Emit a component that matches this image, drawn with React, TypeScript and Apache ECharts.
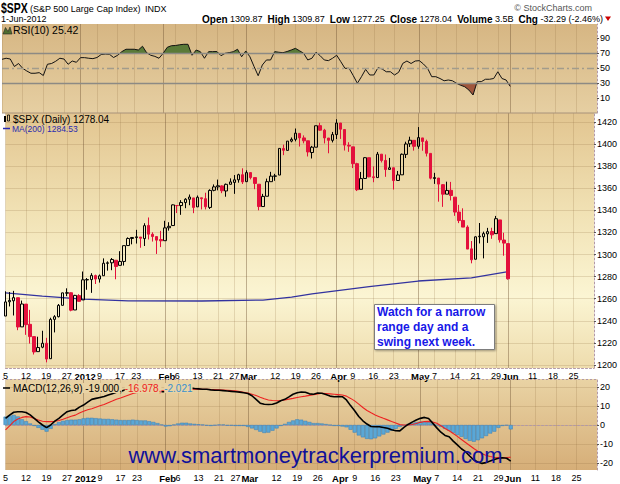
import React, { useEffect, useRef } from "react";
import * as echarts from "echarts";

// ---------- data ----------
// trading days 5-Dec-2011 .. 1-Jun-2012 (124 sessions)
const opens = [
  1244.3, 1257.2, 1258.1, 1260.9, 1234.5, 1255.1, 1236.8, 1225.7, 1212.1, 1216.1, 1219.7, 1205.7, 1241.3, 1243.7, 1254.0, 1265.0, 1265.4, 1249.8, 1262.8,
  1258.9, 1277.0, 1277.3, 1280.9, 1277.8, 1280.8, 1292.0, 1292.5, 1294.8, 1290.2, 1293.7, 1308.1, 1314.5, 1315.3, 1315.8, 1314.4, 1326.3, 1318.3, 1316.2, 1313.5,
  1312.5, 1324.2, 1326.2, 1344.3, 1344.3, 1347.0, 1350.0, 1351.2, 1343.1, 1351.3, 1350.5, 1342.6, 1358.1, 1361.2, 1362.1, 1357.5, 1363.5, 1365.2, 1367.6, 1372.2,
  1365.9, 1374.1, 1369.6, 1363.6, 1343.4, 1352.7, 1365.9, 1370.8, 1371.9, 1395.9, 1394.2, 1402.6, 1404.2, 1409.6, 1405.5, 1402.9, 1392.3, 1397.1, 1416.6, 1412.5, 1405.4, 1403.3,
  1408.5, 1419.0, 1413.1, 1398.8, 1397.4, 1382.2, 1359.0, 1368.8, 1387.6, 1370.3, 1369.6, 1390.8, 1385.1, 1377.0, 1378.5, 1367.0, 1372.1, 1390.6, 1400.2, 1403.3,
  1397.9, 1405.5, 1402.3, 1391.5, 1368.8, 1369.2, 1363.2, 1354.6, 1358.1, 1351.9, 1338.4, 1330.8, 1324.8, 1305.1, 1295.7, 1316.1, 1316.0, 1318.7, 1320.8, 1318.9, 1331.3, 1313.1,
  1309.87,
];
const highs = [
  1266.7, 1266.0, 1267.1, 1260.9, 1258.3, 1255.1, 1249.9, 1225.7, 1225.6, 1231.0, 1224.6, 1242.8, 1245.1, 1255.2, 1265.4, 1269.4, 1265.8, 1263.5, 1264.1,
  1284.6, 1278.7, 1283.1, 1281.8, 1281.9, 1296.5, 1293.8, 1296.8, 1294.8, 1303.0, 1308.1, 1315.5, 1315.4, 1322.3, 1315.8, 1328.3, 1333.5, 1320.1, 1316.2, 1321.4,
  1330.5, 1329.2, 1345.3, 1344.4, 1349.2, 1351.0, 1354.3, 1351.2, 1353.4, 1351.3, 1355.9, 1359.0, 1363.4, 1367.8, 1362.7, 1364.2, 1368.9, 1371.9, 1373.1, 1378.0,
  1376.2, 1374.5, 1369.6, 1363.6, 1354.9, 1368.7, 1374.8, 1373.0, 1396.0, 1399.4, 1402.6, 1405.9, 1414.0, 1409.6, 1407.8, 1402.9, 1398.3, 1416.6, 1419.2, 1413.7, 1405.4, 1410.9,
  1422.4, 1419.0, 1413.1, 1401.6, 1397.4, 1383.0, 1374.7, 1388.1, 1387.6, 1379.7, 1392.8, 1390.8, 1390.5, 1387.4, 1378.5, 1375.6, 1391.4, 1402.1, 1406.6, 1403.3,
  1415.3, 1405.5, 1403.9, 1391.5, 1373.9, 1369.2, 1363.7, 1365.9, 1365.7, 1351.9, 1344.9, 1341.8, 1326.4, 1312.2, 1316.4, 1328.5, 1320.7, 1324.1, 1324.2, 1334.9, 1331.3, 1319.7,
  1309.87,
];
const lows = [
  1244.3, 1253.0, 1244.8, 1231.5, 1234.5, 1227.3, 1219.4, 1209.5, 1212.1, 1215.2, 1202.4, 1205.7, 1229.5, 1243.1, 1254.0, 1262.3, 1248.6, 1249.8, 1257.5,
  1258.9, 1268.1, 1265.3, 1273.3, 1274.6, 1280.8, 1285.4, 1285.8, 1277.6, 1290.2, 1290.0, 1308.1, 1309.2, 1309.9, 1306.1, 1307.7, 1313.6, 1311.7, 1300.5, 1306.7,
  1312.5, 1321.6, 1326.2, 1337.5, 1335.9, 1341.9, 1344.6, 1337.4, 1343.1, 1340.8, 1340.8, 1341.2, 1357.2, 1358.1, 1355.5, 1352.3, 1363.5, 1354.9, 1365.0, 1363.8,
  1365.9, 1368.0, 1359.1, 1340.0, 1343.4, 1352.7, 1365.9, 1366.7, 1371.9, 1389.9, 1394.2, 1401.5, 1402.4, 1397.7, 1400.6, 1388.7, 1386.9, 1397.1, 1411.9, 1400.5, 1391.6, 1401.4,
  1404.5, 1404.6, 1394.1, 1392.9, 1378.2, 1357.4, 1359.0, 1368.8, 1369.9, 1365.4, 1369.6, 1383.3, 1370.3, 1377.0, 1358.8, 1366.8, 1372.1, 1387.3, 1397.3, 1394.0,
  1395.7, 1393.9, 1388.7, 1368.0, 1363.9, 1347.8, 1343.1, 1354.6, 1348.9, 1335.0, 1328.4, 1324.8, 1304.9, 1292.0, 1295.7, 1310.0, 1296.5, 1310.5, 1314.2, 1318.9, 1310.8, 1298.9,
  1277.25,
];
const closes = [
  1257.1, 1258.5, 1261.0, 1234.4, 1255.2, 1236.5, 1225.7, 1211.8, 1215.8, 1219.7, 1205.4, 1241.3, 1243.7, 1254.0, 1265.3, 1265.4, 1249.6, 1263.0, 1257.6,
  1277.1, 1277.3, 1281.1, 1277.8, 1280.7, 1292.1, 1292.5, 1295.5, 1289.1, 1293.7, 1308.0, 1314.5, 1315.4, 1316.0, 1314.7, 1326.1, 1318.4, 1316.3, 1313.0, 1312.4,
  1324.1, 1325.5, 1344.9, 1344.3, 1347.1, 1350.0, 1352.0, 1342.6, 1351.8, 1350.5, 1343.2, 1358.0, 1361.2, 1362.2, 1357.7, 1363.5, 1365.7, 1367.6, 1372.2, 1365.7,
  1374.1, 1369.6, 1364.3, 1343.4, 1352.6, 1365.9, 1370.9, 1371.1, 1396.0, 1394.3, 1402.6, 1404.2, 1409.8, 1405.5, 1402.9, 1392.8, 1397.1, 1416.5, 1412.5, 1405.5, 1403.3, 1408.5,
  1419.0, 1413.4, 1399.0, 1398.1, 1382.2, 1358.6, 1368.7, 1387.6, 1370.3, 1369.6, 1390.8, 1385.1, 1376.9, 1378.5, 1366.9, 1372.0, 1390.7, 1400.0, 1403.4, 1397.9,
  1405.8, 1402.3, 1391.6, 1369.1, 1369.6, 1363.7, 1354.6, 1358.0, 1353.4, 1338.4, 1330.7, 1324.8, 1304.9, 1295.2, 1316.0, 1316.6, 1318.9, 1320.7, 1317.8, 1332.4, 1313.3, 1310.3,
  1278.04,
];
const rsi10 = [
  61.6, 63, 62, 52, 56, 49.6, 46, 43, 43, 43.8, 40, 55, 56, 59, 63, 62, 55, 59.3, 57.6, 63.8,
  63.8, 63, 62.5, 64, 68, 68.6, 68.3, 64, 67, 71.8, 75, 75, 75, 74, 79, 70.4, 67, 65.5, 63, 69.6,
  77.6, 79.7, 80, 81, 81.6, 81.6, 67, 74, 71.8, 63, 71.8, 71.8, 72, 66.4, 69.6, 70.5, 71.8, 75, 65, 72.7,
  65, 52, 39.7, 54, 60.7, 60.7, 71.8, 71, 70.4, 72, 74, 76.2, 73, 69.6, 60.7, 63, 71, 66.4, 60.7, 59.8,
  63, 67, 58.4, 49.6, 49.6, 40, 29.6, 38.4, 48.2, 40.7, 40.7, 50.4, 48.7, 45, 45, 40.7, 44.3, 56.2, 59.3, 56,
  59.3, 59.8, 55.3, 49.6, 38.4, 38.4, 36, 33, 34, 33, 29.6, 27, 25, 20.6, 14, 31.8, 31.8, 35, 35, 36,
  45, 36, 34, 25.42,
];
const macdLine = [
  3.5, 5.2, 6.7, 7, 7, 6.6, 5.3, 3.5, 1.7, 0, -1.4, 0, 2, 3.5, 5.3, 7, 7.6, 7.9, 9.4, 10.5,
  12, 13.5, 14, 14.5, 15, 15.8, 16.5, 17.2, 17.6, 18.4, 19.3, 19.8, 20, 20, 19.6, 19, 18.3, 17.8, 17.5, 17.5,
  17.8, 18.5, 19.2, 19.6, 19.8, 19.5, 19.2, 19, 18.8, 18.8, 18.5, 18.3, 18.3, 18.1, 17.9, 17.7, 17.5, 17.3, 17, 16.6,
  15.4, 13.5, 11.5, 10.9, 10.8, 10.9, 11.6, 12.8, 13.5, 14.8, 16.2, 17, 17.4, 17.2, 16.4, 16.2, 16.8, 16.7, 16, 15.2,
  14.9, 15, 14.9, 13.2, 10.2, 7.5, 4.5, 2.2, 0.5, -0.8, -0.9, -0.9, -1.3, -1.7, -2.5, -3, -3.1, -1.2, 0.3, 1.5,
  2.6, 3.5, 4, 3.4, 1, -1.5, -3.8, -5.5, -6.2, -8.5, -10.5, -12.5, -14, -16.3, -18.4, -19.5, -20.2, -19.8, -18.9, -18.1,
  -17.5, -17.2, -17.5, -19.0,
];
const signalLine = [
  -2.6, -0.5, 1.8, 3.2, 4, 4.4, 4.2, 3.4, 2.6, 2, 1.8, 1.8, 2, 2.4, 3, 3.8, 4.6, 5.2, 6.3, 7.2,
  8, 8.6, 9.3, 10.1, 10.8, 11.7, 12.6, 13.6, 14.2, 15, 15.8, 16.6, 17.1, 17.5, 17.8, 18, 18.1, 18.1, 18, 17.9,
  17.9, 18, 18.2, 18.4, 18.6, 18.7, 18.8, 18.8, 18.8, 18.8, 18.7, 18.6, 18.5, 18.4, 18.3, 18.1, 18, 17.6, 17.2, 16.8,
  16.2, 15.5, 14.6, 13.8, 13.2, 12.9, 12.8, 12.9, 13.2, 13.6, 14, 14.5, 14.9, 15.2, 15.6, 15.9, 16.4, 16.7, 16.6, 16.4,
  16.2, 16, 15.8, 15.2, 14, 12.7, 11, 9.2, 7.6, 6.4, 5.3, 4.4, 3.5, 2.7, 1.8, 1, 0.2, 0, 0, 0.3,
  0.8, 1.4, 1.8, 1.9, 1.6, 0.9, -0.4, -1.8, -3, -4.5, -6, -7.6, -9.2, -10.8, -12.4, -13.8, -15, -16, -16.6, -17,
  -17.2, -17.2, -17.1, -16.98,
];
const histogram = [
  4.4, 5, 5.3, 4.5, 3, 2, 0.8, -0.5, -1.5, -2.5, -3.5, -2, 0.5, 1.5, 2.2, 2.6, 2.8, 2.8, 3, 3.5,
  3.8, 3.8, 3.6, 3.4, 3.2, 3.2, 3, 2.8, 2.6, 2.6, 2.6, 2.8, 2.6, 2.4, 2.4, 2, 1.6, 1, 0.2, -0.8,
  -0.6, 0.2, 0.8, 1.2, 1.2, 0.8, 0.6, 0.4, 0.2, -0.3, -0.5, -0.2, 0.2, 0.2, -0.3, -0.3, -0.5, -0.5, -0.5, -1,
  -1.8, -2.6, -3.5, -4.2, -4, -3, -1.8, -0.5, 0.6, 1.6, 2.4, 3, 2.8, 2.2, 1.6, 1, 1, 0.8, 0.5, 0,
  -0.5, -0.5, -0.8, -1.2, -2.5, -4, -5.5, -6.5, -7.3, -7.5, -7, -6, -5, -4, -3, -2, -1, -0.2, 0.5, 1,
  1.5, 1.8, 1.8, 1.5, 0.8, 0, -1, -2, -3, -4.2, -5.3, -6.2, -7.3, -8.3, -8.8, -8, -7, -5.8, -4.5, -3.5,
  -1.5, -0.5, -0.2, -2.3,
];
const ma200Index = [0, 9, 19, 30, 48, 63, 70, 75, 89, 101, 114, 123];
const ma200Value = [1265.2, 1262.4, 1259.7, 1258.0, 1257.9, 1258.8, 1261.5, 1264.3, 1271.0, 1276.0, 1278.8, 1284.53];

const slotCount = 145; // trading-day slots shown on the date axis (incl. blank June space)
const tickIndex = [0, 5, 10, 15, 19, 23, 28, 32, 39, 42, 47, 52, 56, 59, 66, 71, 76, 81, 85, 90, 95, 101, 105, 110, 115, 120, 123, 129, 134, 139];
const tickText = ["5", "12", "19", "27", "2012", "9", "17", "23", "Feb", "6", "13", "21", "27", "Mar", "12", "19", "26", "Apr", "9", "16", "23", "May", "7", "14", "21", "29", "Jun", "11", "18", "25"];
const monthText = ["2012", "Feb", "Mar", "Apr", "May", "Jun"];
const priceTicks = [1200, 1220, 1240, 1260, 1280, 1300, 1320, 1340, 1360, 1380, 1400, 1420];
const rsiTicks = [10, 30, 50, 70, 90];
const macdTicks = [-20, -10, 0, 10, 20];

const FONT = "'Liberation Sans', Arial, Helvetica, sans-serif";
const RED = "#e3103c";

export default function App() {
  const ref = useRef<HTMLDivElement>(null);
  useEffect(() => {
    if (!ref.current) return;
    const chart = echarts.init(ref.current, null, { renderer: "svg" });

    const cats = Array.from({ length: slotCount }, (_, i) => String(i));
    const tickMap = new Map<number, string>();
    tickIndex.forEach((k, i) => tickMap.set(k, tickText[i]));
    const showTick = (i: number) => tickMap.has(i);
    const vColors = tickText.map((t) => (monthText.includes(t) ? "rgba(110,80,50,0.42)" : "rgba(140,105,60,0.2)"));

    const candleData = opens.map((o, i) => {
      const c = closes[i];
      const rising = i === 0 ? true : c >= closes[i - 1];
      const line = rising ? "#000000" : RED;
      const fill = c > o ? "rgba(255,255,255,0)" : line;
      return {
        value: [o, c, lows[i], highs[i]],
        itemStyle: { color: fill, color0: fill, borderColor: line, borderColor0: line, borderColorDoji: line, borderWidth: 1 },
      };
    });
    const maData = ma200Index.map((k, i) => [k, ma200Value[i]]);

    const grad = (stops: [number, string][]) => ({
      type: "linear", x: 0, y: 0, x2: 0, y2: 1,
      colorStops: stops.map(([offset, color]) => ({ offset, color })),
    });

    const xBase = (gi: number, labels: boolean) => ({
      type: "category",
      gridIndex: gi,
      data: cats,
      boundaryGap: false,
      axisLine: labels ? { show: true, lineStyle: { color: "#b39aa6", type: [2, 2] } } : { show: false },
      axisTick: { show: false },
      axisLabel: labels
        ? {
            show: true,
            interval: (i: number) => showTick(i),
            formatter: (_v: string, i: number) => {
              const t = tickMap.get(i) || "";
              return monthText.includes(t) ? `{b|${t}}` : `{n|${t}}`;
            },
            margin: 3,
            rich: {
              b: { fontFamily: FONT, fontSize: 9.5, fontWeight: "bold", color: "#000", padding: [0, 0, 0, 4] },
              n: { fontFamily: FONT, fontSize: 9, color: "#000" },
            },
          }
        : { show: false },
      splitLine: { show: true, interval: (i: number) => showTick(i), lineStyle: { color: vColors, width: 1 } },
    });

    const yBase = (gi: number, min: number, max: number, ticks: number[], split: boolean) => ({
      type: "value",
      gridIndex: gi,
      position: "right",
      min,
      max,
      axisLine: { show: true, lineStyle: { color: "#b39aa6", type: [2, 2] } },
      axisTick: { show: true, length: 2, customValues: ticks, lineStyle: { color: "#555" } },
      axisLabel: { customValues: ticks, formatter: (v: number) => String(v), fontFamily: FONT, fontSize: 9, color: "#000", margin: 3 },
      splitLine: { show: split, lineStyle: { color: "rgba(140,105,60,0.2)", width: 1 } },
    });

    const option: any = {
      animation: false,
      backgroundColor: "#ffffff",
      grid: [
        { left: 2, right: 23, top: 24, height: 89, show: true, borderWidth: 0,
          backgroundColor: grad([[0, "#d6b683"], [1, "#e6cfa2"]]) },
        { left: 2, right: 23, top: 113, height: 255, show: true, borderWidth: 0,
          backgroundColor: grad([[0, "#e2c590"], [0.4, "#f1e2b5"], [0.72, "#fbf5d3"], [1, "#eedcad"]]) },
        { left: 2, right: 23, top: 379, height: 91, show: true, borderWidth: 0,
          backgroundColor: grad([[0, "#e9d3a4"], [1, "#d6ae78"]]) },
      ],
      xAxis: [xBase(0, false), xBase(1, true), xBase(2, true)],
      yAxis: [
        yBase(0, -10, 108.67, rsiTicks, false),
        yBase(1, 1197.29, 1428.05, priceTicks, true),
        yBase(2, -23.68, 24.21, macdTicks, true),
      ],
      visualMap: [
        { show: false, type: "piecewise", seriesIndex: 0, dimension: 1,
          pieces: [{ gt: 70, lte: 200, color: "#5a7a38" }, { gte: -100, lte: 70, color: "rgba(0,0,0,0)" }] },
        { show: false, type: "piecewise", seriesIndex: 1, dimension: 1,
          pieces: [{ gte: -100, lt: 30, color: "#a0563c" }, { gte: 30, lte: 200, color: "rgba(0,0,0,0)" }] },
      ],
      series: [
        { type: "line", xAxisIndex: 0, yAxisIndex: 0, data: rsi10, symbol: "none", silent: true,
          lineStyle: { width: 0, opacity: 0 }, areaStyle: { origin: 70, opacity: 1 }, z: 1 },
        { type: "line", xAxisIndex: 0, yAxisIndex: 0, data: rsi10, symbol: "none", silent: true,
          lineStyle: { width: 0, opacity: 0 }, areaStyle: { origin: 30, opacity: 1 }, z: 1 },
        { type: "line", xAxisIndex: 0, yAxisIndex: 0, data: rsi10, symbol: "none", silent: true,
          lineStyle: { color: "#111", width: 1 }, z: 4,
          markLine: {
            silent: true, symbol: ["none", "none"], label: { show: false },
            data: [
              { yAxis: 70, lineStyle: { color: "#8d8a84", width: 1.3, type: "solid" } },
              { yAxis: 30, lineStyle: { color: "#8d8a84", width: 1.3, type: "solid" } },
              { yAxis: 50, lineStyle: { color: "#a29c8c", width: 1.3, type: [7, 3, 2, 3] } },
            ],
          } },
        { type: "candlestick", xAxisIndex: 1, yAxisIndex: 1, data: candleData, barWidth: 3, silent: true, z: 3 },
        { type: "line", xAxisIndex: 1, yAxisIndex: 1, data: maData, symbol: "none", silent: true,
          lineStyle: { color: "#33339f", width: 1.3 }, z: 2 },
        { type: "bar", xAxisIndex: 2, yAxisIndex: 2, data: histogram, barWidth: 4, silent: true,
          itemStyle: { color: "#5aa7d6", borderColor: "#3a7fb4", borderWidth: 0.5 }, z: 2 },
        { type: "line", xAxisIndex: 2, yAxisIndex: 2, data: signalLine, symbol: "none", silent: true,
          lineStyle: { color: "#ee2222", width: 1.1 }, z: 3 },
        { type: "line", xAxisIndex: 2, yAxisIndex: 2, data: macdLine, symbol: "none", silent: true,
          lineStyle: { color: "#000", width: 1.6 }, z: 4 },
      ],
      graphic: [
        // header
        { type: "text", x: 1, y: 8, scaleX: 0.7, z: 50, style: { text: "$SPX", fontFamily: FONT, fontSize: 15, fontWeight: "bold", fill: "#000", verticalAlign: "middle" } },
        { type: "text", x: 30, y: 9, z: 50, style: { text: "(S&P 500 Large Cap Index)", fontFamily: FONT, fontSize: 9, fill: "#000", verticalAlign: "middle" } },
        { type: "text", x: 145, y: 9, z: 50, style: { text: "INDX", fontFamily: FONT, fontSize: 9, fill: "#000", verticalAlign: "middle" } },
        { type: "text", x: 592, y: 8, z: 50, style: { text: "© StockCharts.com", fontFamily: FONT, fontSize: 9, fill: "#555", align: "right", verticalAlign: "middle" } },
        { type: "text", x: 1, y: 19, z: 50, style: { text: "1-Jun-2012", fontFamily: FONT, fontSize: 9, fill: "#000", verticalAlign: "middle" } },
        { type: "text", x: 603, y: 19, z: 50, style: {
            text: "{b|Open} {n|1309.87}  {b|High} {n|1309.87}  {b|Low} {n|1277.25}  {b|Close} {n|1278.04}  {b|Volume} {n|3.5B}  {b|Chg} {n|-32.29 (-2.46%)}",
            fontFamily: FONT, fontSize: 9, fill: "#000", align: "right", verticalAlign: "middle",
            rich: { b: { fontFamily: FONT, fontSize: 10, fontWeight: "bold", fill: "#000" }, n: { fontFamily: FONT, fontSize: 9, fill: "#000" } } } },
        { type: "polygon", z: 50, shape: { points: [[605, 16.5], [611, 16.5], [608, 21]] }, style: { fill: "#cc0000" } },
        // RSI legend
        { type: "polygon", z: 50, shape: { points: [[3, 34], [5.5, 27.5], [8, 31.5], [10, 27], [12, 34]] }, style: { fill: "#4f6d2f", stroke: "#222", lineWidth: 0.6 } },
        { type: "text", x: 13, y: 30, z: 50, style: { text: "RSI(10) 25.42", fontFamily: FONT, fontSize: 10.5, fill: "#000", verticalAlign: "middle" } },
        // main legend
        { type: "rect", z: 50, shape: { x: 4, y: 116, width: 2, height: 6 }, style: { fill: "#000" } },
        { type: "rect", z: 50, shape: { x: 7.5, y: 115, width: 2, height: 6 }, style: { fill: "none", stroke: "#000", lineWidth: 0.8 } },
        { type: "text", x: 13, y: 119, z: 50, style: { text: "$SPX (Daily) 1278.04", fontFamily: FONT, fontSize: 10, fill: "#000", verticalAlign: "middle" } },
        { type: "line", z: 50, shape: { x1: 3, y1: 128.5, x2: 10, y2: 128.5 }, style: { stroke: "#2a2ab0", lineWidth: 1.5 } },
        { type: "text", x: 12, y: 128.5, z: 50, style: { text: "MA(200) 1284.53", fontFamily: FONT, fontSize: 8.5, fill: "#2a2ab0", verticalAlign: "middle" } },
        // MACD legend
        { type: "line", z: 50, shape: { x1: 3, y1: 388, x2: 10, y2: 388 }, style: { stroke: "#000", lineWidth: 1.5 } },
        { type: "text", x: 13, y: 388, z: 50, style: {
            text: "{k|MACD(12,26,9) -19.000,} {r|-16.978,} {c|-2.021}",
            fontFamily: FONT, fontSize: 10, verticalAlign: "middle",
            rich: {
              k: { fontFamily: FONT, fontSize: 10, fill: "#000", backgroundColor: "#e9d3a4" },
              r: { fontFamily: FONT, fontSize: 10, fill: "#ee2020", backgroundColor: "#e9d3a4" },
              c: { fontFamily: FONT, fontSize: 10, fill: "#3a8fcc", backgroundColor: "#e9d3a4" },
            } } },
        // panel borders
        { type: "line", z: 50, shape: { x1: 2, y1: 113, x2: 597, y2: 113 }, style: { stroke: "#a8927a", lineWidth: 1 } },
        { type: "line", z: 50, shape: { x1: 2, y1: 379.5, x2: 597, y2: 379.5 }, style: { stroke: "#b39aa6", lineWidth: 1, lineDash: [2, 2] } },
        // annotation
        { type: "rect", z: 60, shape: { x: 374.5, y: 304.5, width: 120, height: 45 },
          style: { fill: "#ffffff", stroke: "#7d7d7d", lineWidth: 1, shadowBlur: 2, shadowOffsetX: 1, shadowOffsetY: 1, shadowColor: "rgba(0,0,0,0.35)" } },
        { type: "text", x: 377, y: 304.5, z: 61, style: {
            text: "Watch for a narrow\nrange day and a\nswing next week.",
            fontFamily: FONT, fontSize: 12, fontWeight: "bold", fill: "#1717e8", lineHeight: 15, verticalAlign: "top" } },
        // watermark
        { type: "text", x: 315.5, y: 455, z: 60, style: { text: "www.smartmoneytrackerpremium.com", fontFamily: FONT, fontSize: 22, fill: "#10109a", align: "center", verticalAlign: "middle" } },
      ],
    };

    chart.setOption(option);
    return () => chart.dispose();
  }, []);

  return <div ref={ref} style={{ position: "fixed", left: 0, top: 0, width: 620, height: 484, background: "#fff" }} />;
}
